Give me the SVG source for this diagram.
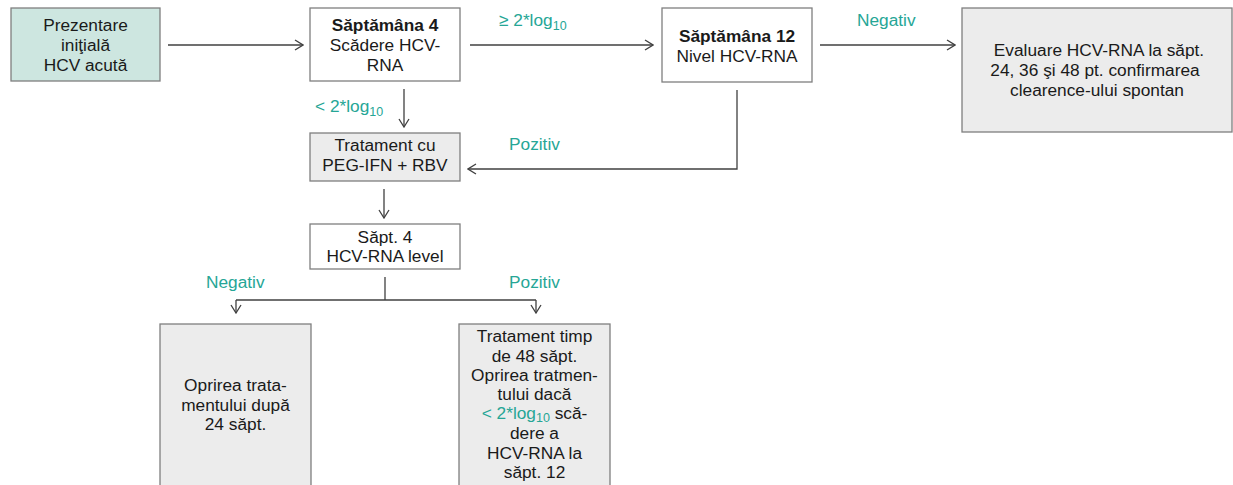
<svg xmlns="http://www.w3.org/2000/svg" width="1233" height="485" viewBox="0 0 1233 485">
<style>
text{font-family:"Liberation Sans",Arial,sans-serif;font-size:17.3px;fill:#1a1a1a;text-anchor:middle}
.b{font-weight:bold}
.lbl{fill:#26a696;text-anchor:start}
.sub{font-size:12.5px}
.box{stroke:#7f7f7f;stroke-width:1.3}
.w{fill:#ffffff}
.g{fill:#ececec}
.t{fill:#cde6e0}
.c{stroke:#404040;stroke-width:1.3;fill:none}
</style>
<defs>
<marker id="a" viewBox="0 0 10 12" refX="9" refY="6" markerWidth="10" markerHeight="12" markerUnits="userSpaceOnUse" orient="auto">
<path d="M1,1 L9,6 L1,11" fill="none" stroke="#404040" stroke-width="1.3"/>
</marker>
</defs>
<g id="connectors">
<path class="c" d="M168,45 H303" marker-end="url(#a)"/>
<path class="c" d="M470,45 H653" marker-end="url(#a)"/>
<path class="c" d="M820,45 H955" marker-end="url(#a)"/>
<path class="c" d="M404,89 V127" marker-end="url(#a)"/>
<path class="c" d="M737,90 V169 H468" marker-end="url(#a)"/>
<path class="c" d="M384,189 V218" marker-end="url(#a)"/>
<path class="c" d="M385,277 V300"/>
<path class="c" d="M236,300 H536"/>
<path class="c" d="M236,300 V313" marker-end="url(#a)"/>
<path class="c" d="M536,300 V313" marker-end="url(#a)"/>
<text class="lbl" x="499" y="26">≥ 2*log<tspan class="sub" dy="4">10</tspan></text>
<text class="lbl" x="857" y="26">Negativ</text>
<text class="lbl" x="315" y="112">&lt; 2*log<tspan class="sub" dy="4">10</tspan></text>
<text class="lbl" x="509" y="150">Pozitiv</text>
<text class="lbl" x="206" y="288">Negativ</text>
<text class="lbl" x="509" y="288">Pozitiv</text>
</g>
<g id="n1">
<rect class="box t" x="11" y="8" width="149" height="73"/>
<text x="85.5" y="31">Prezentare</text>
<text x="85.5" y="51">iniţială</text>
<text x="85.5" y="71">HCV acută</text>
</g>
<g id="n2">
<rect class="box w" x="310" y="8" width="150" height="73"/>
<text class="b" x="385" y="31">Săptămâna 4</text>
<text x="385" y="51">Scădere HCV-</text>
<text x="385" y="71">RNA</text>
</g>
<g id="n3">
<rect class="box w" x="662" y="8" width="150" height="74"/>
<text class="b" x="737" y="42">Săptămâna 12</text>
<text x="737" y="62">Nivel HCV-RNA</text>
</g>
<g id="n4">
<rect class="box g" x="962" y="8" width="270" height="124"/>
<text x="1099" y="56">Evaluare HCV-RNA la săpt.</text>
<text x="1095" y="76">24, 36 şi 48 pt. confirmarea</text>
<text x="1097" y="96">clearence-ului spontan</text>
</g>
<g id="n5">
<rect class="box g" x="310" y="133" width="150" height="48"/>
<text x="385" y="151">Tratament cu</text>
<text x="385" y="171">PEG-IFN + RBV</text>
</g>
<g id="n6">
<rect class="box w" x="310" y="224" width="150" height="45"/>
<text x="385" y="243">Săpt. 4</text>
<text x="385" y="262">HCV-RNA level</text>
</g>
<g id="n7">
<rect class="box g" x="160" y="324" width="151" height="170"/>
<text x="235.5" y="391">Oprirea trata-</text>
<text x="235.5" y="411">mentului după</text>
<text x="235.5" y="430">24 săpt.</text>
</g>
<g id="n8">
<rect class="box g" x="459" y="324" width="151" height="170"/>
<text x="534.5" y="342">Tratament timp</text>
<text x="534.5" y="361.5">de 48 săpt.</text>
<text x="534.5" y="381">Oprirea tratmen-</text>
<text x="534.5" y="400">tului dacă</text>
<text x="534.5" y="419"><tspan fill="#26a696">&lt; 2*log<tspan class="sub" dy="3">10</tspan></tspan><tspan dy="-3"> scă-</tspan></text>
<text x="534.5" y="439">dere a</text>
<text x="534.5" y="458.5">HCV-RNA la</text>
<text x="534.5" y="478">săpt. 12</text>
</g>
</svg>
